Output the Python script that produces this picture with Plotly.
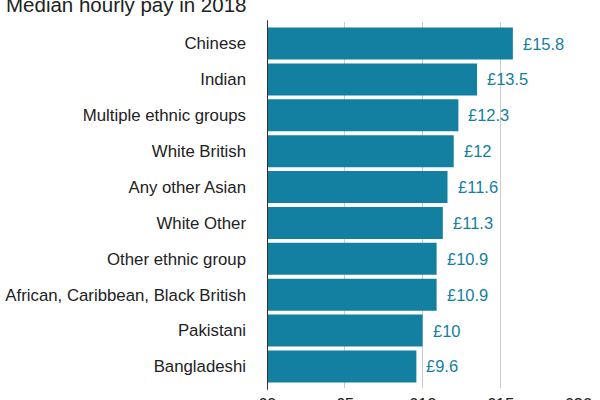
import plotly.graph_objects as go

categories = ["Chinese", "Indian", "Multiple ethnic groups", "White British",
              "Any other Asian", "White Other", "Other ethnic group",
              "African, Caribbean, Black British", "Pakistani", "Bangladeshi"]
values = [15.8, 13.5, 12.3, 12.0, 11.6, 11.3, 10.9, 10.9, 10.0, 9.6]
value_labels = ["£15.8", "£13.5", "£12.3", "£12", "£11.6", "£11.3", "£10.9", "£10.9", "£10", "£9.6"]
tick_vals = [0, 5, 10, 15, 20]
tick_text = ["£0", "£5", "£10", "£15", "£20"]
title = "Median hourly pay in 2018"

BAR = "#1380A1"
FONT = "Liberation Sans, Arial, Helvetica, sans-serif"

fig = go.Figure(go.Bar(
    x=values, y=categories, orientation="h",
    marker=dict(color=BAR, line=dict(width=0)),
    hoverinfo="skip",
))

for v, c, t in zip(values, categories, value_labels):
    fig.add_annotation(x=v, y=c, text=t, showarrow=False, xanchor="left",
                       xshift=8, font=dict(family=FONT, size=16.5, color=BAR))

fig.add_annotation(x=0, xref="paper", xanchor="left", y=1, yref="paper",
                   yanchor="bottom", yshift=4, xshift=-263, text=title,
                   showarrow=False, font=dict(family=FONT, size=20.5, color="#222222"))

fig.add_shape(type="line", x0=0, x1=0, xref="x", y0=-0.005, y1=1.005, yref="paper",
              line=dict(color="#333333", width=2))

fig.update_layout(
    width=600, height=400,
    margin=dict(l=267, r=21, t=22, b=12, autoexpand=False),
    paper_bgcolor="white", plot_bgcolor="white",
    bargap=0.11, showlegend=False,
    font=dict(family=FONT, color="#222222"),
)
fig.update_xaxes(range=[0, 20.05], tickvals=tick_vals, ticktext=tick_text,
                 showgrid=True, gridcolor="#cbcbcb", gridwidth=1,
                 zeroline=False, showline=False, ticks="", ticklabelstandoff=4,
                 tickfont=dict(family=FONT, size=16.8, color="#222222"),
                 automargin=False, fixedrange=True)
fig.update_yaxes(categoryorder="array", categoryarray=categories[::-1],
                 range=[-0.6, 9.6], showgrid=False, zeroline=False, showline=False,
                 ticks="", ticklabelstandoff=20,
                 tickfont=dict(family=FONT, size=16.8, color="#222222"),
                 automargin=False, fixedrange=True)

fig.write_html("out.html", config={"displayModeBar": False})
